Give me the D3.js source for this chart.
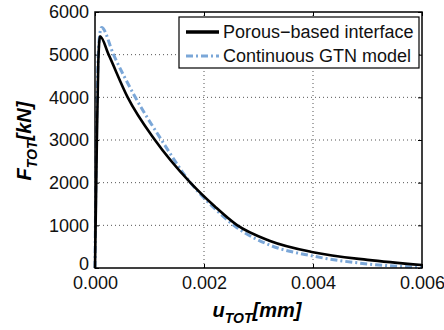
<!DOCTYPE html>
<html>
<head>
<meta charset="utf-8">
<script src="https://cdn.jsdelivr.net/npm/d3@7"></script>
<style>
  body { margin: 0; background: #fff; }
  svg text { font-family: "Liberation Sans", Arial, sans-serif; }
</style>
</head>
<body>
<div id="chart"></div>
<script>
// Data (u in mm, F in kN)
const seriesNames = ["Porous\u2212based interface", "Continuous GTN model"];

const porousU = [0, 0.00003, 0.00006, 0.000092, 0.00025, 0.0006, 0.0011, 0.00175, 0.0022, 0.0026, 0.0032, 0.004, 0.005, 0.006];
const porousF = [0, 2600, 4800, 5430, 5000, 4000, 3000, 2000, 1440, 1010, 640, 370, 190, 70];

const gtnU = [0, 0.00002, 0.00005, 0.00008, 0.00012, 0.00034, 0.00074, 0.00122, 0.00175, 0.0022, 0.0026, 0.0032, 0.004, 0.005, 0.006];
const gtnF = [0, 2500, 4600, 5400, 5635, 5000, 4000, 3000, 2000, 1390, 950, 540, 280, 95, 15];

const xTicks = [0, 0.002, 0.004, 0.006];
const yTicks = [0, 1000, 2000, 3000, 4000, 5000, 6000];

const width = 444, height = 330;
const margin = { top: 12, right: 22, bottom: 62, left: 95 };

const x = d3.scaleLinear().domain([0, 0.006]).range([margin.left, width - margin.right]);
const y = d3.scaleLinear().domain([0, 6000]).range([height - margin.bottom, margin.top]);

const svg = d3.select("#chart").append("svg")
  .attr("width", width)
  .attr("height", height);

// Grid (dotted)
svg.append("g")
  .selectAll("line")
  .data(xTicks.slice(1, -1))
  .join("line")
  .attr("x1", d => x(d)).attr("x2", d => x(d))
  .attr("y1", y(0)).attr("y2", y(6000))
  .attr("stroke", "#555").attr("stroke-width", 1)
  .attr("stroke-dasharray", "1,3");

svg.append("g")
  .selectAll("line")
  .data(yTicks.slice(1, -1))
  .join("line")
  .attr("x1", x(0)).attr("x2", x(0.006))
  .attr("y1", d => y(d)).attr("y2", d => y(d))
  .attr("stroke", "#555").attr("stroke-width", 1)
  .attr("stroke-dasharray", "1,3");

// Axes (ticks inside, MATLAB style)
svg.append("g")
  .attr("transform", `translate(0,${y(0)})`)
  .call(d3.axisBottom(x).tickValues(xTicks).tickSize(-4).tickPadding(8).tickFormat(d3.format(".3f")))
  .call(g => g.select(".domain").remove())
  .call(g => g.selectAll("line").attr("stroke", "#000"))
  .call(g => g.selectAll("text").attr("font-size", 18).attr("fill", "#111"));

svg.append("g")
  .attr("transform", `translate(${x(0)},0)`)
  .call(d3.axisLeft(y).tickValues(yTicks).tickSize(-4).tickPadding(6).tickFormat(d3.format("d")))
  .call(g => g.select(".domain").remove())
  .call(g => g.selectAll("line").attr("stroke", "#000"))
  .call(g => g.selectAll("text").attr("font-size", 18).attr("fill", "#111"))
  // lift the "0" label a little so it clears "0.000" below
  .call(g => g.selectAll("text").filter(d => d === 0).attr("dy", "0.1em"));

// ticks on top and right
svg.append("g")
  .attr("transform", `translate(0,${y(6000)})`)
  .call(d3.axisTop(x).tickValues(xTicks).tickSize(-4).tickFormat(""))
  .call(g => g.select(".domain").remove());
svg.append("g")
  .attr("transform", `translate(${x(0.006)},0)`)
  .call(d3.axisRight(y).tickValues(yTicks).tickSize(-4).tickFormat(""))
  .call(g => g.select(".domain").remove());

// Lines
const line = d3.line().x(d => x(d[0])).y(d => y(d[1])).curve(d3.curveMonotoneX);

svg.append("path")
  .datum(gtnU.map((u, i) => [u, gtnF[i]]))
  .attr("d", line)
  .attr("fill", "none")
  .attr("stroke", "#7ba7d8")
  .attr("stroke-width", 3)
  .attr("stroke-dasharray", "7,3,2,3");

svg.append("path")
  .datum(porousU.map((u, i) => [u, porousF[i]]))
  .attr("d", line)
  .attr("fill", "none")
  .attr("stroke", "#000")
  .attr("stroke-width", 2.6);

// Box
svg.append("rect")
  .attr("x", x(0)).attr("y", y(6000))
  .attr("width", x(0.006) - x(0)).attr("height", y(0) - y(6000))
  .attr("fill", "none").attr("stroke", "#000").attr("stroke-width", 1.5);

// Legend
const lg = svg.append("g").attr("transform", "translate(179,17)");
lg.append("rect")
  .attr("width", 240).attr("height", 51)
  .attr("fill", "#fff").attr("stroke", "#000").attr("stroke-width", 1.2);
const legendStyles = [
  { stroke: "#000", w: 3.5, dash: null },
  { stroke: "#7ba7d8", w: 3, dash: "7,3,2,3" }
];
seriesNames.forEach((name, i) => {
  const cy = 15 + i * 24;
  lg.append("line")
    .attr("x1", 7).attr("x2", 40).attr("y1", cy).attr("y2", cy)
    .attr("stroke", legendStyles[i].stroke)
    .attr("stroke-width", legendStyles[i].w)
    .attr("stroke-dasharray", legendStyles[i].dash);
  lg.append("text")
    .attr("x", 44).attr("y", cy + 6)
    .attr("font-size", 18).attr("fill", "#111")
    .text(name);
});

// Axis labels
const xl = svg.append("text")
  .attr("x", 257).attr("y", 317)
  .attr("text-anchor", "middle")
  .attr("font-size", 20).attr("font-weight", "bold").attr("font-style", "italic");
xl.append("tspan").text("u");
xl.append("tspan").attr("font-size", 14).attr("dy", 6).text("TOT");
xl.append("tspan").attr("dy", -6).text("[mm]");

const yl = svg.append("text")
  .attr("transform", "translate(31,141) rotate(-90)")
  .attr("text-anchor", "middle")
  .attr("font-size", 20).attr("font-weight", "bold").attr("font-style", "italic");
yl.append("tspan").text("F");
yl.append("tspan").attr("font-size", 14).attr("dy", 6).text("TOT");
yl.append("tspan").attr("dy", -6).text("[kN]");
</script>
</body>
</html>
